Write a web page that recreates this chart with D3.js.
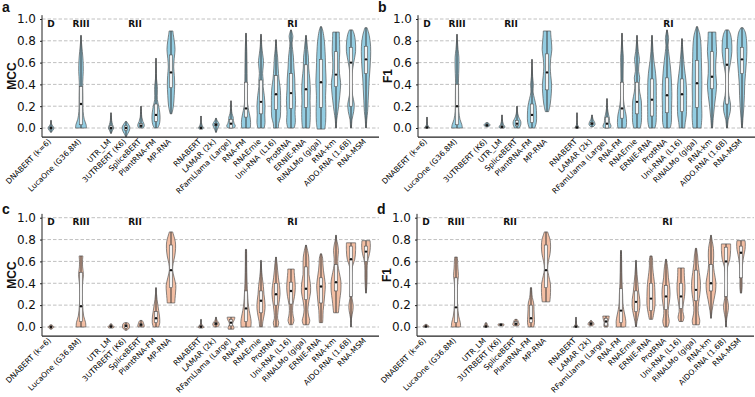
<!DOCTYPE html>
<html><head><meta charset="utf-8">
<script src="https://cdn.jsdelivr.net/npm/d3@7"></script>
<style>body{margin:0;background:#fff} svg{display:block}</style>
</head><body><svg id="chart" width="755" height="397"></svg>
<script>
// ---------------- DATA ----------------
const groups = ["D", "RIII", "RII", "RI"];
const groupSizes = [1, 1, 5, 12];
const yTicks = [0, 0.2, 0.4, 0.6, 0.8, 1.0];
const yTickLabels = ["0.0", "0.2", "0.4", "0.6", "0.8", "1.0"];

// panel a: MCC (blue)
const modelsA = ["DNABERT (k=6)","LucaOne (G36.8M)","UTR_LM","3UTRBERT (K6)","SpliceBERT","PlantRNA-FM","MP-RNA","RNABERT","LAMAR (2k)","RFamLlama (Large)","RNA-FM","RNAErnie","Uni-RNA (L16)","ProtRNA","ERNIE-RNA","RiNALMo (giga)","RNA-km","AIDO.RNA (1.6B)","RNA-MSM"];
// density profiles: [value, relative density]
const violinsA = [
 [[-0.04,0.05],[-0.02,0.35],[0.0,0.55],[0.02,0.3],[0.04,0.08],[0.07,0.03]],
 [[0,1.0],[0.03,0.95],[0.08,0.6],[0.15,0.4],[0.3,0.35],[0.42,0.32],[0.52,0.42],[0.62,0.38],[0.7,0.25],[0.78,0.1],[0.85,0.03]],
 [[-0.05,0.05],[-0.02,0.3],[0.0,0.5],[0.03,0.3],[0.07,0.12],[0.1,0.08],[0.14,0.02]],
 [[-0.08,0.05],[-0.05,0.35],[-0.02,0.65],[0.01,0.7],[0.03,0.5],[0.06,0.1]],
 [[0,0.3],[0.01,0.55],[0.03,0.6],[0.06,0.35],[0.1,0.15],[0.15,0.08],[0.2,0.02]],
 [[0,0.3],[0.03,0.6],[0.08,0.75],[0.14,0.7],[0.2,0.5],[0.26,0.25],[0.33,0.25],[0.38,0.25],[0.45,0.1],[0.55,0.05],[0.64,0.02]],
 [[0.13,0.15],[0.2,0.45],[0.3,0.6],[0.4,0.68],[0.48,0.62],[0.56,0.5],[0.64,0.6],[0.72,0.75],[0.8,0.6],[0.86,0.42],[0.89,0.35]],
 [[-0.01,0.3],[0.0,0.45],[0.02,0.25],[0.05,0.08],[0.11,0.02]],
 [[-0.04,0.05],[0.0,0.35],[0.03,0.6],[0.05,0.45],[0.07,0.2],[0.09,0.05]],
 [[0,0.6],[0.02,0.8],[0.04,0.6],[0.07,0.45],[0.1,0.4],[0.13,0.2],[0.18,0.08],[0.25,0.02]],
 [[0,0.8],[0.05,0.85],[0.1,0.75],[0.16,0.5],[0.22,0.3],[0.3,0.25],[0.4,0.22],[0.5,0.2],[0.6,0.18],[0.7,0.15],[0.8,0.08],[0.87,0.03]],
 [[0,0.6],[0.05,0.75],[0.12,0.7],[0.2,0.75],[0.3,0.6],[0.38,0.4],[0.44,0.4],[0.5,0.3],[0.56,0.4],[0.62,0.45],[0.68,0.3],[0.75,0.15],[0.86,0.03]],
 [[0,0.45],[0.04,0.5],[0.1,0.8],[0.2,0.85],[0.3,0.85],[0.38,0.75],[0.45,0.55],[0.55,0.4],[0.65,0.3],[0.72,0.15],[0.81,0.03]],
 [[0,0.6],[0.05,0.8],[0.15,0.75],[0.25,0.85],[0.35,0.75],[0.45,0.7],[0.55,0.55],[0.65,0.45],[0.72,0.3],[0.78,0.2],[0.84,0.35],[0.9,0.05]],
 [[0,0.65],[0.05,0.75],[0.15,0.8],[0.25,0.75],[0.35,0.8],[0.45,0.7],[0.55,0.5],[0.65,0.45],[0.72,0.3],[0.8,0.15],[0.85,0.03]],
 [[-0.01,0.7],[0.05,0.85],[0.15,0.9],[0.3,0.85],[0.42,0.95],[0.55,0.85],[0.65,0.8],[0.75,0.7],[0.83,0.55],[0.9,0.3],[0.93,0.1]],
 [[0,0.05],[0.08,0.15],[0.15,0.35],[0.25,0.6],[0.35,0.8],[0.42,0.85],[0.5,0.65],[0.6,0.6],[0.7,0.7],[0.8,0.65],[0.88,0.6]],
 [[0,0.08],[0.08,0.2],[0.15,0.5],[0.22,0.6],[0.3,0.3],[0.4,0.15],[0.5,0.2],[0.6,0.5],[0.7,0.85],[0.8,0.8],[0.86,0.6],[0.9,0.3]],
 [[0,0.05],[0.08,0.15],[0.15,0.3],[0.25,0.4],[0.35,0.5],[0.45,0.6],[0.55,0.75],[0.65,0.85],[0.75,0.85],[0.85,0.6],[0.92,0.2]]
];
// [q1, median, q3]
const statsA = [[-0.01,0,0.01],[0.03,0.22,0.38],[-0.01,0,0.02],[-0.02,0,0.02],[0.01,0.02,0.04],[0.06,0.12,0.22],[0.37,0.51,0.67],[0,0,0.01],[0.02,0.03,0.04],[0,0.04,0.08],[0.1,0.18,0.42],[0.13,0.24,0.44],[0.17,0.31,0.48],[0.18,0.32,0.5],[0.19,0.355,0.58],[0.19,0.42,0.63],[0.38,0.49,0.7],[0.2,0.6,0.74],[0.5,0.63,0.75]];

// panel b: F1 (blue)
const modelsB = ["DNABERT (k=6)","LucaOne (G36.8M)","3UTRBERT (K6)","UTR_LM","SpliceBERT","PlantRNA-FM","MP-RNA","RNABERT","LAMAR (2k)","RFamLlama (Large)","RNA-FM","RNAErnie","ERNIE-RNA","ProtRNA","Uni-RNA (L16)","RiNALMo (giga)","RNA-km","AIDO.RNA (1.6B)","RNA-MSM"];
const violinsB = [
 [[0,0.5],[0.01,0.35],[0.03,0.1],[0.06,0.05],[0.1,0.02]],
 [[0,1.0],[0.03,0.9],[0.08,0.55],[0.15,0.35],[0.3,0.3],[0.45,0.28],[0.55,0.35],[0.65,0.35],[0.72,0.2],[0.8,0.08],[0.86,0.02]],
 [[0.01,0.2],[0.02,0.5],[0.03,0.55],[0.04,0.4],[0.05,0.1]],
 [[0,0.45],[0.01,0.55],[0.03,0.3],[0.06,0.12],[0.09,0.05],[0.12,0.02]],
 [[0,0.45],[0.03,0.7],[0.06,0.7],[0.09,0.4],[0.13,0.15],[0.2,0.03]],
 [[0,0.5],[0.05,0.8],[0.12,0.85],[0.2,0.75],[0.27,0.45],[0.33,0.2],[0.4,0.25],[0.47,0.12],[0.55,0.05],[0.63,0.02]],
 [[0.15,0.3],[0.22,0.6],[0.32,0.8],[0.4,0.85],[0.48,0.7],[0.56,0.6],[0.64,0.7],[0.72,0.9],[0.8,0.8],[0.86,0.7],[0.89,0.68]],
 [[0,0.4],[0.01,0.3],[0.03,0.1],[0.07,0.04],[0.14,0.02]],
 [[0.01,0.2],[0.03,0.55],[0.05,0.5],[0.08,0.2],[0.12,0.03]],
 [[0,0.6],[0.02,0.75],[0.05,0.5],[0.09,0.45],[0.12,0.3],[0.18,0.1],[0.27,0.02]],
 [[0,0.75],[0.05,0.85],[0.12,0.75],[0.18,0.5],[0.25,0.3],[0.35,0.22],[0.45,0.2],[0.55,0.22],[0.65,0.25],[0.72,0.15],[0.8,0.06],[0.87,0.02]],
 [[0,0.6],[0.05,0.8],[0.15,0.85],[0.25,0.8],[0.33,0.5],[0.4,0.4],[0.46,0.5],[0.52,0.3],[0.58,0.35],[0.63,0.45],[0.7,0.25],[0.78,0.1],[0.85,0.02]],
 [[0,0.55],[0.05,0.75],[0.15,0.8],[0.3,0.8],[0.45,0.75],[0.55,0.55],[0.62,0.35],[0.7,0.2],[0.78,0.1],[0.85,0.03]],
 [[0,0.6],[0.05,0.8],[0.2,0.85],[0.3,0.9],[0.45,0.8],[0.55,0.65],[0.62,0.5],[0.7,0.3],[0.76,0.2],[0.82,0.3],[0.9,0.03]],
 [[0,0.5],[0.05,0.6],[0.12,0.8],[0.25,0.85],[0.35,0.85],[0.45,0.7],[0.55,0.45],[0.63,0.3],[0.72,0.15],[0.82,0.02]],
 [[0,0.75],[0.1,0.9],[0.25,0.85],[0.4,0.9],[0.55,0.85],[0.65,0.8],[0.75,0.75],[0.85,0.55],[0.93,0.1]],
 [[0,0.1],[0.1,0.25],[0.2,0.45],[0.3,0.7],[0.4,0.85],[0.5,0.7],[0.6,0.7],[0.7,0.85],[0.8,0.75],[0.88,0.7]],
 [[0,0.08],[0.08,0.25],[0.15,0.6],[0.22,0.65],[0.3,0.35],[0.4,0.2],[0.5,0.3],[0.6,0.65],[0.7,0.9],[0.8,0.85],[0.86,0.65],[0.9,0.3]],
 [[0,0.05],[0.1,0.2],[0.2,0.35],[0.3,0.45],[0.4,0.5],[0.5,0.65],[0.6,0.8],[0.7,0.9],[0.8,0.85],[0.88,0.6],[0.92,0.2]]
];
const statsB = [[0,0.005,0.01],[0.03,0.2,0.4],[0.02,0.025,0.035],[0,0.01,0.02],[0.02,0.04,0.07],[0.05,0.12,0.22],[0.35,0.51,0.68],[0,0.005,0.01],[0.03,0.04,0.05],[0,0.04,0.1],[0.09,0.18,0.42],[0.13,0.24,0.42],[0.11,0.26,0.45],[0.14,0.3,0.46],[0.15,0.31,0.45],[0.19,0.41,0.62],[0.36,0.47,0.7],[0.22,0.58,0.73],[0.5,0.63,0.74]];

// panel c: MCC (peach)
const modelsC = ["DNABERT (k=6)","LucaOne (G36.8M)","UTR_LM","3UTRBERT (K6)","SpliceBERT","PlantRNA-FM","MP-RNA","RNABERT","LAMAR (2k)","RFamLlama (Large)","RNA-FM","RNAErnie","ProtRNA","Uni-RNA (L16)","RiNALMo (giga)","ERNIE-RNA","RNA-km","AIDO.RNA (1.6B)","RNA-MSM"];
const violinsC = [
 [[-0.02,0.1],[-0.01,0.4],[0.0,0.55],[0.01,0.4],[0.02,0.1]],
 [[0,0.9],[0.04,0.85],[0.1,0.5],[0.2,0.3],[0.3,0.2],[0.4,0.3],[0.48,0.45],[0.55,0.3],[0.6,0.28],[0.65,0.35]],
 [[-0.01,0.3],[0.0,0.6],[0.01,0.45],[0.02,0.2],[0.03,0.05]],
 [[-0.03,0.15],[-0.01,0.6],[0.01,0.65],[0.03,0.55],[0.04,0.2]],
 [[0,0.55],[0.01,0.6],[0.03,0.5],[0.05,0.35],[0.06,0.2]],
 [[0,0.5],[0.04,0.7],[0.1,0.65],[0.15,0.5],[0.2,0.35],[0.25,0.2],[0.3,0.1],[0.36,0.03]],
 [[0.22,0.7],[0.26,0.75],[0.32,0.85],[0.38,0.9],[0.45,0.6],[0.52,0.3],[0.58,0.4],[0.65,0.7],[0.72,0.85],[0.78,0.8],[0.83,0.55],[0.87,0.3]],
 [[-0.01,0.25],[0.0,0.6],[0.01,0.35],[0.03,0.1],[0.07,0.03]],
 [[0.0,0.3],[0.02,0.6],[0.04,0.5],[0.06,0.2],[0.09,0.05]],
 [[-0.02,0.5],[0.0,0.55],[0.02,0.3],[0.04,0.35],[0.06,0.55],[0.08,0.7],[0.09,0.7]],
 [[0,0.9],[0.05,0.95],[0.1,0.8],[0.15,0.6],[0.22,0.4],[0.3,0.3],[0.4,0.2],[0.5,0.15],[0.6,0.12],[0.66,0.12],[0.71,0.1]],
 [[0,0.25],[0.05,0.35],[0.1,0.55],[0.17,0.75],[0.24,0.7],[0.3,0.55],[0.37,0.45],[0.43,0.3],[0.5,0.15],[0.61,0.03]],
 [[0,0.35],[0.04,0.5],[0.08,0.3],[0.13,0.35],[0.2,0.5],[0.3,0.75],[0.38,0.65],[0.45,0.45],[0.52,0.3],[0.58,0.2],[0.64,0.05]],
 [[0.02,0.3],[0.06,0.55],[0.1,0.4],[0.15,0.3],[0.2,0.35],[0.28,0.65],[0.36,0.8],[0.44,0.7],[0.5,0.6],[0.53,0.6]],
 [[0.02,0.5],[0.06,0.7],[0.1,0.5],[0.16,0.35],[0.24,0.55],[0.32,0.85],[0.4,0.8],[0.48,0.55],[0.56,0.55],[0.64,0.5],[0.7,0.3],[0.75,0.05]],
 [[0.04,0.3],[0.08,0.35],[0.15,0.4],[0.22,0.55],[0.3,0.7],[0.38,0.8],[0.45,0.65],[0.52,0.45],[0.58,0.35],[0.63,0.3],[0.67,0.1]],
 [[0.13,0.45],[0.18,0.55],[0.25,0.7],[0.33,0.9],[0.42,0.9],[0.5,0.6],[0.57,0.35],[0.63,0.35],[0.7,0.45],[0.76,0.3],[0.8,0.12],[0.84,0.05]],
 [[0,0.03],[0.08,0.1],[0.15,0.35],[0.2,0.4],[0.26,0.2],[0.35,0.1],[0.45,0.12],[0.55,0.25],[0.62,0.7],[0.7,0.85],[0.77,0.85]],
 [[0.31,0.05],[0.38,0.15],[0.45,0.2],[0.52,0.2],[0.6,0.3],[0.65,0.55],[0.7,0.75],[0.75,0.8],[0.79,0.75]]
];
const statsC = [[-0.005,0,0.005],[0.05,0.19,0.5],[0,0.005,0.01],[-0.01,0.01,0.02],[0.01,0.02,0.03],[0.04,0.08,0.14],[0.36,0.52,0.75],[0,0.003,0.01],[0.02,0.03,0.04],[0.01,0.04,0.07],[0.05,0.17,0.33],[0.13,0.24,0.33],[0.2,0.3,0.4],[0.21,0.33,0.41],[0.25,0.35,0.55],[0.22,0.37,0.45],[0.33,0.41,0.57],[0.28,0.62,0.74],[0.6,0.69,0.74]];

// panel d: F1 (peach)
const modelsD = ["DNABERT (k=6)","LucaOne (G36.8M)","UTR_LM","3UTRBERT (K6)","SpliceBERT","PlantRNA-FM","MP-RNA","RNABERT","LAMAR (2k)","RFamLlama (Large)","RNA-FM","RNAErnie","ERNIE-RNA","ProtRNA","Uni-RNA (L16)","RiNALMo (giga)","RNA-km","AIDO.RNA (1.6B)","RNA-MSM"];
const violinsD = [
 [[0,0.55],[0.01,0.5],[0.02,0.2],[0.025,0.05]],
 [[0,0.85],[0.04,0.8],[0.1,0.5],[0.2,0.3],[0.3,0.25],[0.4,0.3],[0.47,0.45],[0.54,0.35],[0.6,0.3],[0.64,0.25]],
 [[0,0.5],[0.01,0.4],[0.02,0.25],[0.03,0.2],[0.04,0.05]],
 [[0.01,0.4],[0.015,0.55],[0.025,0.55],[0.03,0.35]],
 [[0.01,0.4],[0.02,0.6],[0.04,0.5],[0.06,0.35],[0.07,0.2]],
 [[0,0.5],[0.04,0.65],[0.1,0.6],[0.16,0.55],[0.22,0.5],[0.27,0.25],[0.32,0.15],[0.36,0.1]],
 [[0.23,0.7],[0.28,0.8],[0.35,0.85],[0.4,0.8],[0.47,0.5],[0.53,0.3],[0.6,0.45],[0.67,0.75],[0.74,0.85],[0.8,0.75],[0.84,0.5],[0.87,0.3]],
 [[0,0.5],[0.01,0.25],[0.03,0.1],[0.06,0.05],[0.09,0.02]],
 [[0.01,0.3],[0.025,0.55],[0.04,0.45],[0.05,0.25],[0.06,0.05]],
 [[0,0.35],[0.02,0.4],[0.04,0.35],[0.06,0.45],[0.08,0.55],[0.1,0.6]],
 [[0,0.85],[0.05,0.9],[0.1,0.75],[0.16,0.5],[0.22,0.35],[0.3,0.3],[0.4,0.2],[0.5,0.15],[0.6,0.12],[0.7,0.08]],
 [[0,0.05],[0.05,0.2],[0.12,0.5],[0.18,0.7],[0.25,0.7],[0.32,0.5],[0.4,0.35],[0.48,0.2],[0.55,0.1],[0.61,0.03]],
 [[0.07,0.3],[0.12,0.5],[0.2,0.75],[0.28,0.75],[0.36,0.7],[0.42,0.6],[0.5,0.4],[0.56,0.3],[0.61,0.3],[0.65,0.2]],
 [[0,0.35],[0.05,0.6],[0.1,0.45],[0.15,0.4],[0.22,0.6],[0.3,0.75],[0.38,0.65],[0.45,0.45],[0.52,0.35],[0.58,0.2],[0.62,0.05]],
 [[0.05,0.35],[0.09,0.55],[0.14,0.35],[0.2,0.4],[0.28,0.65],[0.36,0.75],[0.44,0.65],[0.5,0.6],[0.54,0.6]],
 [[0.02,0.6],[0.06,0.7],[0.12,0.45],[0.18,0.4],[0.26,0.6],[0.34,0.8],[0.42,0.8],[0.5,0.6],[0.58,0.4],[0.65,0.3],[0.72,0.1]],
 [[0.08,0.05],[0.15,0.2],[0.25,0.55],[0.33,0.85],[0.41,0.9],[0.5,0.6],[0.57,0.45],[0.65,0.5],[0.72,0.45],[0.78,0.25],[0.84,0.05]],
 [[0,0.03],[0.08,0.15],[0.15,0.4],[0.2,0.45],[0.26,0.25],[0.35,0.12],[0.45,0.12],[0.55,0.3],[0.62,0.7],[0.7,0.85],[0.76,0.85]],
 [[0.31,0.1],[0.36,0.2],[0.44,0.2],[0.52,0.2],[0.6,0.35],[0.66,0.55],[0.71,0.75],[0.76,0.8],[0.79,0.75]]
];
const statsD = [[0,0.005,0.01],[0.04,0.18,0.45],[0,0.005,0.01],[0.012,0.02,0.025],[0.02,0.03,0.05],[0.04,0.08,0.2],[0.36,0.52,0.75],[0,0.003,0.01],[0.02,0.03,0.04],[0.01,0.05,0.08],[0.04,0.15,0.35],[0.14,0.23,0.33],[0.15,0.26,0.4],[0.16,0.28,0.38],[0.17,0.28,0.4],[0.24,0.34,0.52],[0.33,0.4,0.57],[0.28,0.6,0.73],[0.45,0.68,0.74]];

// ---------------- LAYOUT / STYLE ----------------
const BLUE = "#93cde2", PEACH = "#f3bea3";
const panels = [
  {letter:"a", metric:"MCC", models:modelsA, violins:violinsA, stats:statsA, fill:BLUE,  x0:42,  yTop:19,    yZero:128, letterY:12},
  {letter:"b", metric:"F1",  models:modelsB, violins:violinsB, stats:statsB, fill:BLUE,  x0:418, yTop:19,    yZero:128, letterY:12},
  {letter:"c", metric:"MCC", models:modelsC, violins:violinsC, stats:statsC, fill:PEACH, x0:42,  yTop:217.7, yZero:327, letterY:213.5},
  {letter:"d", metric:"F1",  models:modelsD, violins:violinsD, stats:statsD, fill:PEACH, x0:417, yTop:217.7, yZero:327, letterY:213.5}
];
const groupLabelSlot = [0, 2, 5.6, 16.1];

const svg = d3.select("#chart");
const FONT = "DejaVu Sans, sans-serif";

panels.forEach(p => {
  const g = svg.append("g");
  const y = d3.scaleLinear().domain([0, 1]).range([p.yZero, p.yTop]);
  const yMin = -0.083, yMax = 1.035;
  const xRight = p.x0 + 337;

  const slots = [];
  let k = 0;
  groupSizes.forEach((n, gi) => {
    if (gi > 0) slots.push("__gap" + gi);
    for (let j = 0; j < n; j++) slots.push(p.models[k++]);
  });
  const x = d3.scalePoint().domain(slots).range([p.x0 + 9, p.x0 + 324]);
  const step = x.step();

  // grid
  g.append("g").selectAll("line").data(yTicks).join("line")
    .attr("x1", p.x0).attr("x2", xRight)
    .attr("y1", d => y(d)).attr("y2", d => y(d))
    .attr("stroke", "#b0b0b0").attr("stroke-width", 0.8)
    .attr("stroke-dasharray", "3.5,2");

  // y axis
  const ya = g.append("g").attr("transform", `translate(${p.x0},0)`)
    .call(d3.axisLeft(y).tickValues(yTicks).tickFormat((d, i) => yTickLabels[i]).tickSize(2).tickPadding(4));
  ya.select(".domain").remove();
  ya.selectAll("text").attr("font-family", FONT).attr("font-size", 12).attr("fill", "#111");
  ya.selectAll("line").attr("stroke", "#222");

  // violins
  const wS = d3.scaleLinear().domain([0, 1]).range([0, 5.4]);
  p.models.forEach((m, i) => {
    const cx = x(m);
    const prof = p.violins[i];
    const st = p.stats[i];
    const area = d3.area().curve(d3.curveCatmullRom.alpha(0.5))
      .y(d => y(d[0])).x0(d => cx - wS(d[1])).x1(d => cx + wS(d[1]));
    g.append("path").attr("d", area(prof))
      .attr("fill", p.fill).attr("stroke", "#555").attr("stroke-width", 0.7);
    const lo = prof[0][0], hi = prof[prof.length - 1][0];
    g.append("line").attr("x1", cx).attr("x2", cx).attr("y1", y(lo)).attr("y2", y(hi))
      .attr("stroke", "#3a3a3a").attr("stroke-width", 1);
    g.append("rect").attr("x", cx - 1.5).attr("width", 3)
      .attr("y", y(st[2])).attr("height", Math.max(0.5, y(st[0]) - y(st[2])))
      .attr("fill", "#f4f4f4").attr("stroke", "#555").attr("stroke-width", 0.6);
    g.append("circle").attr("cx", cx).attr("cy", y(st[1])).attr("r", 1.2).attr("fill", "#111");
  });

  // spines
  g.append("line").attr("x1", p.x0).attr("x2", p.x0).attr("y1", y(yMax)).attr("y2", y(yMin))
    .attr("stroke", "#222").attr("stroke-width", 1);
  g.append("line").attr("x1", p.x0).attr("x2", xRight).attr("y1", y(yMin)).attr("y2", y(yMin))
    .attr("stroke", "#222").attr("stroke-width", 1.2);

  // x axis (category labels, rotated)
  const xa = g.append("g").attr("transform", `translate(0,${y(yMin)})`)
    .call(d3.axisBottom(x).tickValues(p.models).tickSize(0).tickPadding(0));
  xa.select(".domain").remove();
  xa.selectAll("text")
    .attr("font-family", FONT).attr("font-size", 7.6).attr("fill", "#000")
    .attr("text-anchor", "end").attr("dy", null).attr("y", null)
    .attr("transform", "translate(0,5) rotate(-45)");

  // group labels
  groups.forEach((gname, gi) => {
    const sx = p.x0 + 9 + groupLabelSlot[gi] * step;
    g.append("text").attr("x", sx).attr("y", y(1) + 7.5)
      .attr("text-anchor", "middle").attr("font-family", FONT).attr("font-weight", "bold")
      .attr("font-size", 9).attr("fill", "#111").text(gname);
  });

  // y label
  const ymid = (y(yMax) + y(yMin)) / 2;
  g.append("text").attr("transform", `translate(${p.x0 - 30},${ymid}) rotate(-90)`)
    .attr("text-anchor", "middle").attr("dominant-baseline", "central")
    .attr("font-family", "Liberation Sans, Arial, sans-serif").attr("font-weight", "bold")
    .attr("font-size", 12).attr("fill", "#111").text(p.metric);

  // panel letter
  g.append("text").attr("x", p.x0 - 40).attr("y", p.letterY)
    .attr("font-family", "Liberation Sans, Arial, sans-serif").attr("font-weight", "bold")
    .attr("font-size", 14).attr("fill", "#111").text(p.letter);
});
</script></body></html>
